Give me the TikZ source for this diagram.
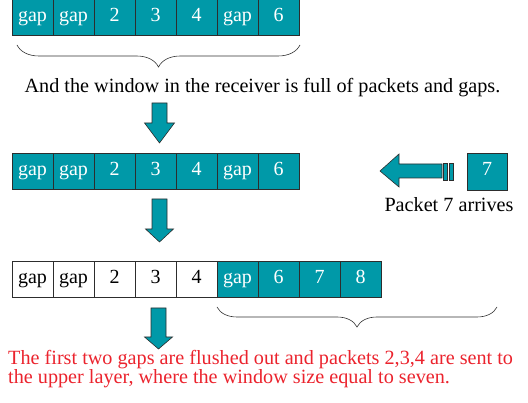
\documentclass[tikz,border=0pt]{standalone}
\usepackage{fontspec}
\setmainfont{Liberation Serif}
\usetikzlibrary{decorations.pathreplacing}
\definecolor{teal}{RGB}{0,153,168}
\definecolor{edge}{RGB}{45,45,45}
\definecolor{msgred}{RGB}{235,35,45}
\tikzset{
  cell/.style={draw=edge, line width=0.9pt, minimum width=41pt, minimum height=36pt,
    inner sep=0pt, text height=13pt, text depth=4.5pt, font=\fontsize{20}{23}\selectfont},
  full/.style={cell, fill=teal, text=white},
  empty/.style={cell, fill=white, text=black},
  arrowfill/.style={fill=teal, draw=edge, line width=0.6pt},
  bracestyle/.style={draw=black!80, line width=0.6pt, decorate,
    decoration={brace, mirror, amplitude=#1}},
  caption/.style={font=\fontsize{20.2}{23}\selectfont, inner sep=0pt, anchor=base},
}
% down-pointing block arrow: centre x, top of shaft, start of head, tip, head half-width
\newcommand{\blockdown}[5]{%
  \filldraw[arrowfill] (#1-7.5,#2) -- (#1+7.5,#2) -- (#1+7.5,#3) -- (#1+#5,#3)
    -- (#1,#4) -- (#1-#5,#3) -- (#1-7.5,#3) -- cycle;}
\begin{document}
\begin{tikzpicture}[x=1pt,y=-1pt]
\useasboundingbox (0,0) rectangle (528,403);
\begin{scope}
\clip (0,0) rectangle (528,403);
% first window: packets and gaps
\foreach \t [count=\i] in {gap,gap,2,3,4,gap,6}
  \node[full] (a\i) at (12+41*\i-20.5,17) {\t};
\end{scope}
\draw[bracestyle=22pt] (17,45) -- (300,45);
\node[caption] (note) at (262.5,93) {And the window in the receiver is full of packets and gaps.};
\blockdown{159.5}{103}{123}{143}{15}
% second window, packet 7 on its way
\foreach \t [count=\i] in {gap,gap,2,3,4,gap,6}
  \node[full] (b\i) at (12+41*\i-20.5,171.5) {\t};
\node[full, minimum width=40pt, minimum height=37pt] (p7) at (487,171.5) {7};
\node[caption] (arrives) at (449,212) {Packet 7 arrives};
\filldraw[arrowfill] (380,171) -- (399,154) -- (399,164) -- (442,164) -- (442,178)
  -- (399,178) -- (399,187) -- cycle;
\filldraw[arrowfill] (443.5,163) rectangle (447.5,180);
\filldraw[arrowfill] (449.5,163) rectangle (453.5,180);
\blockdown{159.5}{199}{229}{242}{14}
% third window after delivery
\foreach \t [count=\i] in {gap,gap,2,3,4}
  \node[empty] (c\i) at (12+41*\i-20.5,279.5) {\t};
\foreach \t [count=\i from 6] in {gap,6,7,8}
  \node[full] (c\i) at (12+41*\i-20.5,279.5) {\t};
\draw[bracestyle=20pt] (217,307) -- (497,307);
\blockdown{158.5}{308}{337}{349}{14}
\node[caption, anchor=base west, text=msgred] (result) at (8,365)
  {The first two gaps are flushed out and packets 2,3,4 are sent to};
\node[caption, anchor=base west, text=msgred] (result2) at (8,384)
  {the upper layer, where the window size equal to seven.};
\end{tikzpicture}
\end{document}
